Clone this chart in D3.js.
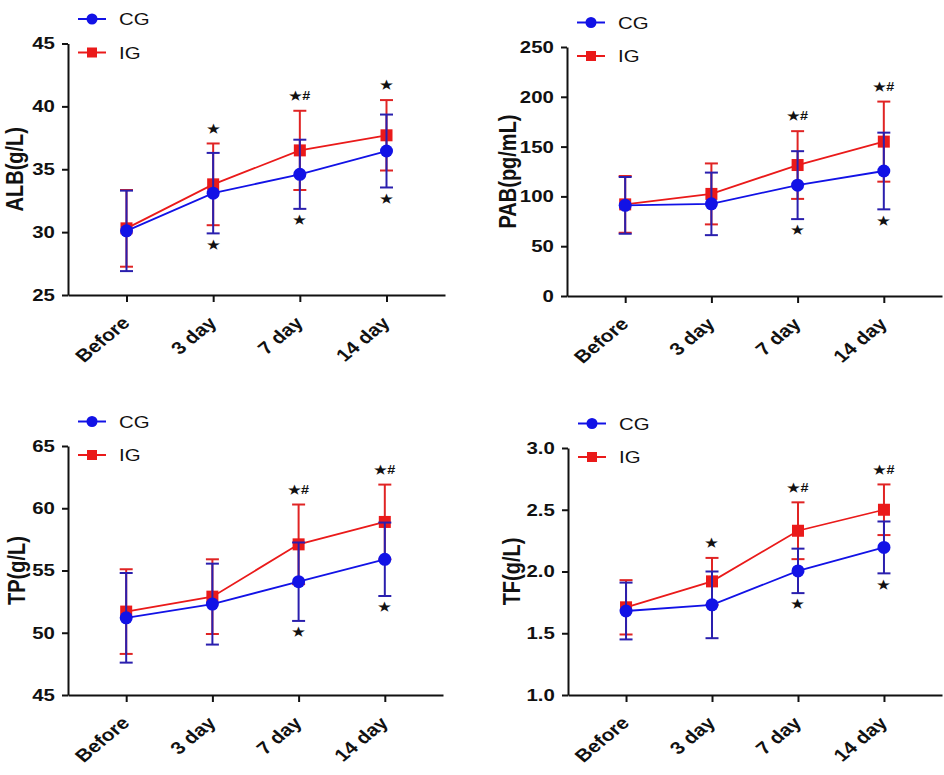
<!DOCTYPE html>
<html>
<head>
<meta charset="utf-8">
<script src="https://cdn.jsdelivr.net/npm/d3@7/dist/d3.min.js"></script>
<style>
  body { margin: 0; background: #fff; }
  svg { display: block; }
  text { font-family: Arial, "Liberation Sans", sans-serif; }
</style>
</head>
<body>
<div id="chart"></div>
<script>
// categories shared by all four panels
const categories = ["Before", "3 day", "7 day", "14 day"];
const groups = ["CG", "IG"];

// ALB (g/L)
const albCG = [30.1, 33.1, 34.6, 36.45];
const albCGsd = [3.2, 3.2, 2.75, 2.9];
const albIG = [30.3, 33.8, 36.5, 37.7];
const albIGsd = [3.05, 3.25, 3.15, 2.8];
const albTicks = [25, 30, 35, 40, 45];
const albSigUp = ["", "*", "*#", "*"];
const albSigDown = ["", "*", "*", "*"];

// PAB (pg/mL)
const pabCG = [91, 92.5, 111.3, 125.5];
const pabCGsd = [28.5, 31.4, 34.1, 38.5];
const pabIG = [92, 102.5, 131.5, 155];
const pabIGsd = [28.5, 30.6, 34, 40.2];
const pabTicks = [0, 50, 100, 150, 200, 250];
const pabSigUp = ["", "", "*#", "*#"];
const pabSigDown = ["", "", "*", "*"];

// TP (g/L)
const tpCG = [51.2, 52.3, 54.1, 55.9];
const tpCGsd = [3.6, 3.25, 3.15, 2.95];
const tpIG = [51.7, 52.9, 57.1, 58.9];
const tpIGsd = [3.4, 3.0, 3.2, 3.0];
const tpTicks = [45, 50, 55, 60, 65];
const tpSigUp = ["", "", "*#", "*#"];
const tpSigDown = ["", "", "*", "*"];

// TF (g/L)
const tfCG = [1.68, 1.73, 2.005, 2.195];
const tfCGsd = [0.23, 0.27, 0.18, 0.21];
const tfIG = [1.71, 1.92, 2.33, 2.5];
const tfIGsd = [0.22, 0.19, 0.23, 0.205];
const tfTicks = [1.0, 1.5, 2.0, 2.5, 3.0];
const tfSigUp = ["", "*", "*#", "*#"];
const tfSigDown = ["", "", "*", "*"];

const W = 944, H = 775;
const sx = 1.2; // the original figure is stretched sideways a bit
const lineColor = { CG: "#1212e6", IG: "#ea1a1a" };
const barColor = { CG: "#2a1fae", IG: "#e02424" };

const svg = d3.select("#chart").append("svg")
  .attr("width", W).attr("height", H);

const panels = [
  { title: "ALB(g/L)", cg: albCG, cgSd: albCGsd, ig: albIG, igSd: albIGsd, ticks: albTicks, fmt: d3.format("d"),
    up: albSigUp, down: albSigDown, left: 68, top: 43.5, width: 377, height: 251.5, titleDx: -53 },
  { title: "PAB(pg/mL)", cg: pabCG, cgSd: pabCGsd, ig: pabIG, igSd: pabIGsd, ticks: pabTicks, fmt: d3.format("d"),
    up: pabSigUp, down: pabSigDown, left: 567, top: 47, width: 375, height: 249, titleDx: -59 },
  { title: "TP(g/L)", cg: tpCG, cgSd: tpCGsd, ig: tpIG, igSd: tpIGsd, ticks: tpTicks, fmt: d3.format("d"),
    up: tpSigUp, down: tpSigDown, left: 68, top: 446, width: 375, height: 249, titleDx: -51 },
  { title: "TF(g/L)", cg: tfCG, cgSd: tfCGsd, ig: tfIG, igSd: tfIGsd, ticks: tfTicks, fmt: d3.format(".1f"),
    up: tfSigUp, down: tfSigDown, left: 568, top: 448, width: 374, height: 247, titleDx: -56 }
];

panels.forEach(drawPanel);

function drawPanel(p) {
  const g = svg.append("g").attr("transform", `translate(${p.left},${p.top})`);

  const x = d3.scalePoint().domain(categories).range([0, p.width]).padding(0.675);
  const y = d3.scaleLinear().domain(d3.extent(p.ticks)).range([p.height, 0]);

  // axes
  const yAxis = g.append("g")
    .call(d3.axisLeft(y).tickValues(p.ticks).tickFormat(p.fmt).tickSize(6).tickSizeOuter(0).tickPadding(5));
  yAxis.selectAll("text")
    .attr("transform", `scale(${sx},1)`)
    .attr("font-size", 17).attr("font-weight", "bold").attr("fill", "#111");

  const xAxis = g.append("g").attr("transform", `translate(0,${p.height})`)
    .call(d3.axisBottom(x).tickSize(7).tickSizeOuter(0));
  xAxis.selectAll("text")
    .attr("x", 0).attr("y", 0).attr("dy", 0)
    .attr("text-anchor", "end")
    .attr("transform", `translate(4,29) scale(${sx},1) rotate(-45)`)
    .attr("font-size", 17.5).attr("font-weight", "bold").attr("fill", "#111");

  [yAxis, xAxis].forEach(a => {
    a.select(".domain").attr("stroke", "#111").attr("stroke-width", 2);
    a.selectAll(".tick line").attr("stroke", "#111").attr("stroke-width", 2);
  });

  // y title
  g.append("text")
    .attr("transform", `translate(${p.titleDx},${p.height / 2}) scale(${sx},1) rotate(-90)`)
    .attr("text-anchor", "middle").attr("dy", "0.35em")
    .attr("font-size", 20).attr("font-weight", "bold").attr("fill", "#111")
    .text(p.title);

  const series = [
    { name: "IG", mean: p.ig, sd: p.igSd },
    { name: "CG", mean: p.cg, sd: p.cgSd }
  ];

  series.forEach(s => {
    const rows = categories.map((c, i) => ({ c, m: s.mean[i], sd: s.sd[i] }));
    const col = lineColor[s.name];

    const eb = g.append("g").attr("stroke", barColor[s.name]).attr("stroke-width", 2);
    eb.selectAll(".v").data(rows).join("line")
      .attr("x1", d => x(d.c)).attr("x2", d => x(d.c))
      .attr("y1", d => y(d.m + d.sd)).attr("y2", d => y(d.m - d.sd));
    eb.selectAll(".t").data(rows).join("line")
      .attr("x1", d => x(d.c) - 6.5).attr("x2", d => x(d.c) + 6.5)
      .attr("y1", d => y(d.m + d.sd)).attr("y2", d => y(d.m + d.sd));
    eb.selectAll(".b").data(rows).join("line")
      .attr("x1", d => x(d.c) - 6.5).attr("x2", d => x(d.c) + 6.5)
      .attr("y1", d => y(d.m - d.sd)).attr("y2", d => y(d.m - d.sd));

    g.append("path").datum(rows)
      .attr("fill", "none").attr("stroke", col).attr("stroke-width", 1.8)
      .attr("d", d3.line().x(d => x(d.c)).y(d => y(d.m)));

    if (s.name === "CG") {
      g.selectAll(null).data(rows).join("circle")
        .attr("cx", d => x(d.c)).attr("cy", d => y(d.m)).attr("r", 6.5).attr("fill", col);
    } else {
      g.selectAll(null).data(rows).join("rect")
        .attr("x", d => x(d.c) - 6).attr("y", d => y(d.m) - 6)
        .attr("width", 12).attr("height", 12).attr("fill", col);
    }
  });

  // significance marks
  const sig = categories.map((c, i) => ({
    c,
    up: p.up[i],
    down: p.down[i],
    hi: Math.max(p.cg[i] + p.cgSd[i], p.ig[i] + p.igSd[i]),
    lo: Math.min(p.cg[i] - p.cgSd[i], p.ig[i] - p.igSd[i])
  }));
  const star = t => t.replace(/\*/g, "\u2605");
  const sigText = (sel, key, off) => sel.filter(d => d[key])
    .append("text")
    .attr("transform", d => `translate(${x(d.c)},${y(key === "up" ? d.hi : d.lo) + off}) scale(${sx},1)`)
    .attr("text-anchor", "middle").attr("dy", "0.35em")
    .attr("font-family", "'DejaVu Sans', sans-serif")
    .attr("font-size", 12).attr("font-weight", "bold").attr("fill", "#111")
    .text(d => star(d[key]));
  const sg = g.append("g").selectAll("g").data(sig).join("g");
  sigText(sg, "up", -15);
  sigText(sg, "down", 11);

  // legend
  const leg = g.append("g").selectAll("g").data(groups).join("g")
    .attr("transform", (d, i) => `translate(0,${i === 0 ? -24.5 : 9})`);
  leg.append("line")
    .attr("x1", 10).attr("x2", 38)
    .attr("stroke", d => lineColor[d]).attr("stroke-width", 2);
  leg.filter(d => d === "CG").append("circle")
    .attr("cx", 24).attr("r", 5.5).attr("fill", lineColor.CG);
  leg.filter(d => d === "IG").append("rect")
    .attr("x", 19).attr("y", -5).attr("width", 10).attr("height", 10).attr("fill", lineColor.IG);
  leg.append("text")
    .attr("transform", `translate(51,0) scale(${sx},1)`)
    .attr("dy", "0.36em")
    .attr("font-size", 17).attr("fill", "#111")
    .text(d => d);
}
</script>
</body>
</html>
